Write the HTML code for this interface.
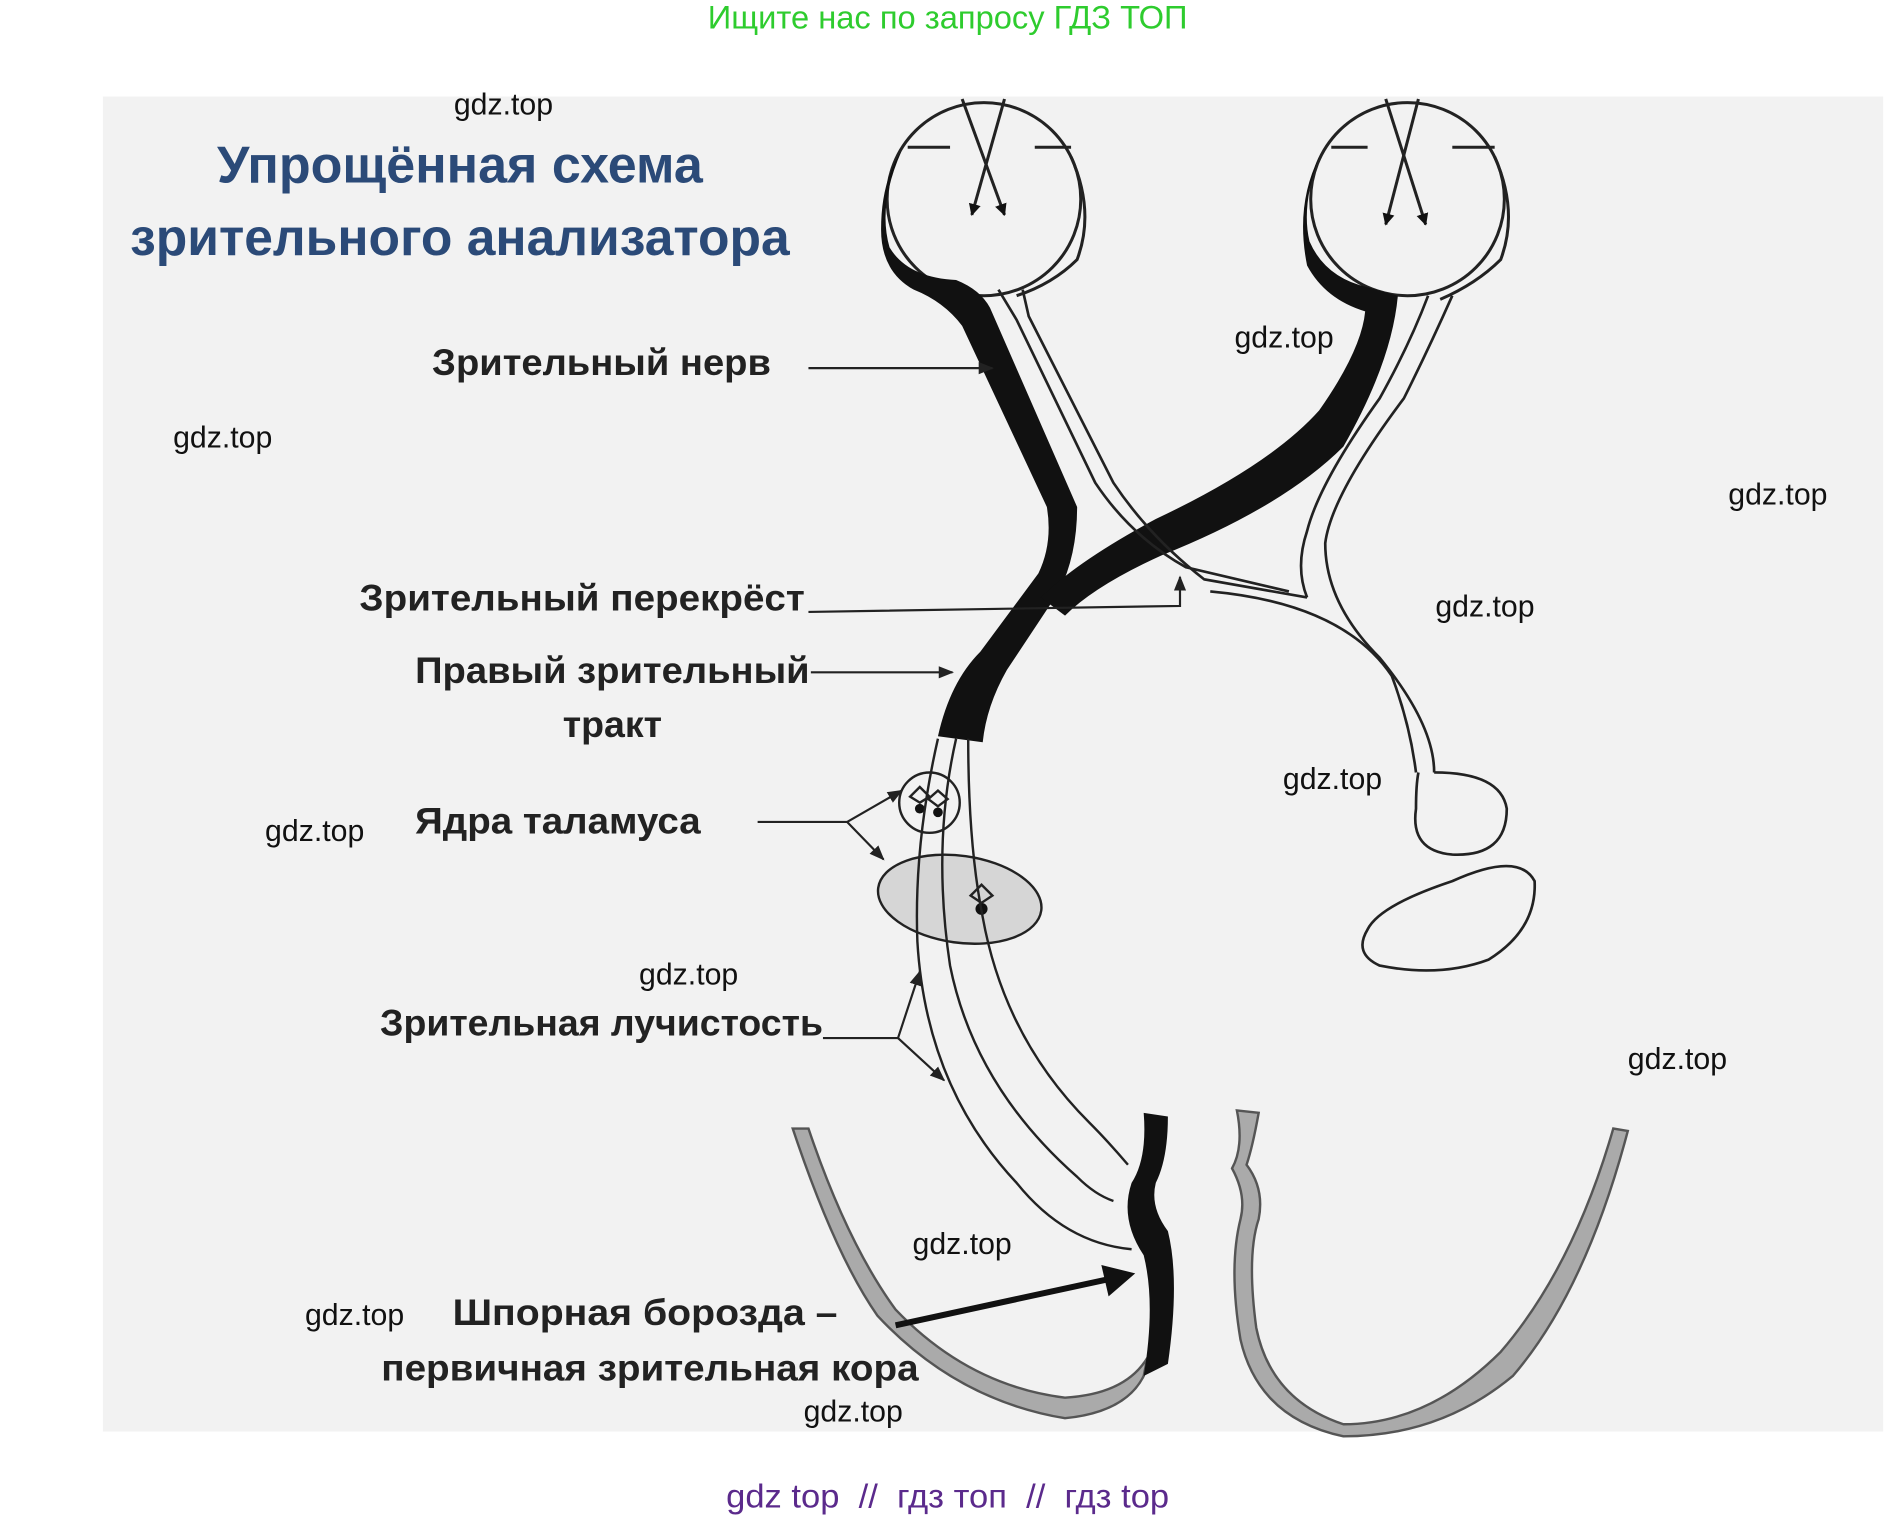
<!DOCTYPE html>
<html><head><meta charset="utf-8"><style>
html,body{margin:0;padding:0;background:#fff;}
svg{display:block;}
</style></head><body>
<svg width="1888" height="1516" viewBox="0 0 1560 1256" preserveAspectRatio="none" xmlns="http://www.w3.org/2000/svg" font-family="Liberation Sans, DejaVu Sans, sans-serif">
<defs>
<marker id="ar" viewBox="0 0 10 10" refX="9" refY="5" markerWidth="7" markerHeight="7" orient="auto"><path d="M0,1 L10,5 L0,9 z" fill="#222"/></marker>
<marker id="ar2" viewBox="0 0 10 10" refX="9" refY="5" markerWidth="4" markerHeight="4" orient="auto"><path d="M0,0 L10,5 L0,10 z" fill="#111"/></marker>
</defs>
<rect width="1560" height="1256" fill="#fff"/>
<rect x="85" y="80" width="1471" height="1106" fill="#f2f2f2"/>
<text x="783" y="14" text-anchor="middle" dominant-baseline="central" font-size="27" fill="#2ecc2e">Ищите нас по запросу ГДЗ ТОП</text>

<!-- title -->
<g font-weight="bold" fill="#2b4a78" font-size="43" text-anchor="middle" dominant-baseline="central">
<text x="380" y="137">Упрощённая схема</text>
<text x="380" y="197" textLength="545" lengthAdjust="spacingAndGlyphs">зрительного анализатора</text>
</g>

<!-- eyes -->
<g fill="none" stroke="#222" stroke-width="2.5">
<circle cx="813" cy="165" r="80"/>
<circle cx="1163" cy="165" r="80"/>
<path d="M750,122 L785,122 M855,122 L885,122 M1100,122 L1130,122 M1200,122 L1235,122"/>
<path d="M795,82 L830,178" marker-end="url(#ar2)"/>
<path d="M830,82 L803,178" marker-end="url(#ar2)"/>
<path d="M1145,82 L1178,186" marker-end="url(#ar2)"/>
<path d="M1172,82 L1145,186" marker-end="url(#ar2)"/>
<path d="M885,130 Q905,175 890,215 Q870,235 840,245"/>
<path d="M1235,130 Q1255,175 1240,215 Q1220,235 1190,248"/>
</g>
<!-- left eye black crescent + nerve -->
<path d="M745,125 Q725,170 735,205 Q750,230 790,232 Q810,240 818,255 L890,420 Q890,460 875,490 L832,555 Q815,585 812,615 L775,610 Q785,565 810,540 L858,475 Q870,450 865,420 L795,270 Q780,250 755,240 Q728,225 728,190 Q728,150 745,125 Z" fill="#111"/>
<!-- right eye black nerve -->
<path d="M1090,130 Q1075,170 1082,200 Q1095,230 1130,238 L1155,245 Q1150,300 1110,370 Q1060,420 960,460 Q905,485 880,510 L860,495 Q890,465 955,430 Q1050,385 1090,340 Q1125,290 1128,258 Q1095,248 1080,220 Q1070,170 1090,130 Z" fill="#111"/>
<!-- white bands -->
<g fill="none" stroke="#222" stroke-width="2.2">
<path d="M825,240 L840,265 L905,400 Q935,445 980,470 L1065,490"/>
<path d="M845,240 L850,262 L920,400 Q950,445 995,480 L1080,495"/>
<path d="M1180,245 Q1165,285 1140,330 Q1090,400 1080,440 Q1070,470 1080,495"/>
<path d="M1200,245 Q1180,290 1160,330 Q1100,410 1095,450 Q1095,500 1140,545 Q1185,600 1185,640"/>
<path d="M1000,490 Q1110,500 1150,560 Q1165,600 1170,640"/>
<path d="M1185,640 Q1240,640 1245,670 Q1245,710 1200,708 Q1165,705 1170,670 Q1170,650 1172,640"/>
<path d="M1130,770 Q1140,750 1200,730 Q1255,705 1268,730 Q1270,770 1230,795 Q1190,810 1140,800 Q1118,790 1130,770 Z"/>
</g>
<!-- thalamus -->
<ellipse cx="793" cy="745" rx="68" ry="36" transform="rotate(8 793 745)" fill="#d6d6d6" stroke="#222" stroke-width="2"/>
<circle cx="768" cy="665" r="25" fill="none" stroke="#222" stroke-width="2"/>
<g fill="#111"><circle cx="760" cy="670" r="4"/><circle cx="775" cy="673" r="4"/><circle cx="811" cy="753" r="5"/></g>
<g fill="none" stroke="#222" stroke-width="2">
<path d="M760,665 L752,660 L760,652 L768,660 Z M775,668 L767,662 L775,655 L783,662Z M811,748 L802,742 L811,733 L820,742 Z"/>
<path d="M775,612 Q755,700 758,780 Q765,900 840,980 Q880,1030 935,1035"/>
<path d="M790,612 Q770,700 785,800 Q805,900 890,975 Q905,990 920,995"/>
<path d="M800,612 Q800,700 812,760 Q830,860 900,930 Q915,945 932,965"/>
</g>
<!-- cortex -->
<path d="M655,935 Q690,1040 725,1090 Q790,1160 880,1175 Q930,1170 945,1140 L948,1125 Q930,1155 880,1158 Q800,1148 740,1085 Q700,1030 668,935 Z" fill="#aaa" stroke="#555" stroke-width="2"/>
<path d="M945,922 L965,925 Q965,960 955,980 Q950,1000 965,1020 Q975,1060 965,1130 L945,1140 Q955,1080 945,1040 Q925,1010 935,980 Q948,960 945,922 Z" fill="#111"/>
<path d="M1022,920 L1040,922 Q1035,950 1030,965 Q1045,985 1040,1010 Q1030,1040 1038,1100 Q1050,1160 1110,1180 Q1180,1180 1240,1120 Q1300,1050 1333,935 L1345,937 Q1310,1070 1250,1140 Q1190,1190 1110,1190 Q1040,1175 1025,1110 Q1015,1050 1025,1010 Q1030,990 1018,968 Q1028,950 1022,920 Z" fill="#aaa" stroke="#555" stroke-width="2"/>

<!-- labels -->
<g font-weight="bold" fill="#222" font-size="31" text-anchor="middle" dominant-baseline="central">
<text x="497" y="300" textLength="280" lengthAdjust="spacingAndGlyphs">Зрительный нерв</text>
<text x="481" y="495" textLength="368" lengthAdjust="spacingAndGlyphs">Зрительный перекрёст</text>
<text x="506" y="555" textLength="326" lengthAdjust="spacingAndGlyphs">Правый зрительный</text>
<text x="506" y="600">тракт</text>
<text x="461" y="680" textLength="236" lengthAdjust="spacingAndGlyphs">Ядра таламуса</text>
<text x="497" y="847" textLength="366" lengthAdjust="spacingAndGlyphs">Зрительная лучистость</text>
<text x="533" y="1087" textLength="318" lengthAdjust="spacingAndGlyphs">Шпорная борозда –</text>
<text x="537" y="1133" textLength="444" lengthAdjust="spacingAndGlyphs">первичная зрительная кора</text>
</g>
<g fill="none" stroke="#222" stroke-width="1.8">
<path d="M668,305 L820,305" marker-end="url(#ar)"/>
<path d="M668,507 L975,502 L975,478" marker-end="url(#ar)"/>
<path d="M670,557 L787,557" marker-end="url(#ar)"/>
<path d="M626,681 L700,681 L745,655" marker-end="url(#ar)"/>
<path d="M700,681 L730,712" marker-end="url(#ar)"/>
<path d="M680,860 L742,860 L760,805" marker-end="url(#ar)"/>
<path d="M742,860 L780,895" marker-end="url(#ar)"/>
</g>
<path d="M740,1098 L915,1060" stroke="#111" stroke-width="5"/>
<path d="M938,1055 L910,1048 L916,1074 Z" fill="#111"/>

<!-- watermarks -->
<g font-size="25" fill="#111" text-anchor="middle" dominant-baseline="central">
<text x="416" y="87">gdz.top</text>
<text x="1061" y="280">gdz.top</text>
<text x="184" y="363">gdz.top</text>
<text x="1469" y="410">gdz.top</text>
<text x="1227" y="503">gdz.top</text>
<text x="1101" y="646">gdz.top</text>
<text x="260" y="689">gdz.top</text>
<text x="569" y="808">gdz.top</text>
<text x="1386" y="878">gdz.top</text>
<text x="795" y="1031">gdz.top</text>
<text x="293" y="1090">gdz.top</text>
<text x="705" y="1170">gdz.top</text>
</g>
<text x="783" y="1240" text-anchor="middle" dominant-baseline="central" font-size="28" fill="#5b2a8c" textLength="366" lengthAdjust="spacingAndGlyphs" xml:space="preserve">gdz top  //  гдз топ  //  гдз top</text>
</svg>
</body></html>
